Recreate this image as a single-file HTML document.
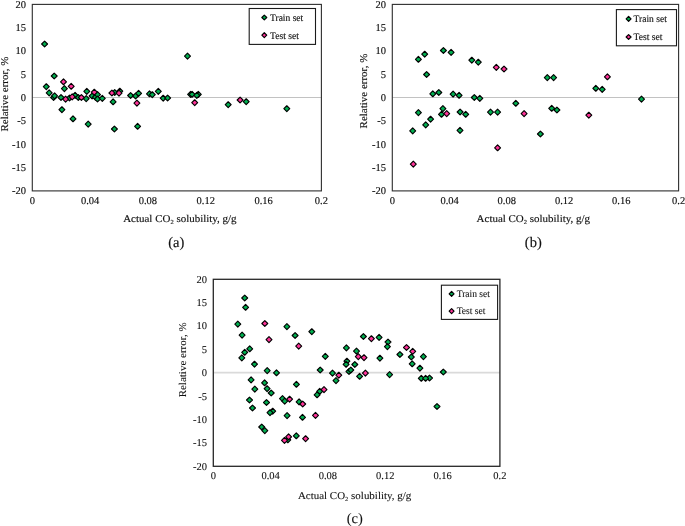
<!DOCTYPE html>
<html><head><meta charset="utf-8"><title>Relative error vs actual CO2 solubility</title>
<style>
html,body{margin:0;padding:0;background:#fff;}
svg{display:block;font-family:"Liberation Serif","Times New Roman",serif;fill:#111;}
path{stroke:#000;stroke-width:1.15px;stroke-linejoin:round;}
path.g{fill:#00b050;}path.p{fill:#ff3399;}path.s{stroke-width:1.2px;}
text{text-rendering:geometricPrecision;stroke:#111;}
</style></head>
<body>
<svg width="685" height="526" viewBox="0 0 685 526">
<rect width="685" height="526" fill="#fff"/>
<g stroke-width="0.15"><line x1="32.3" y1="97.50" x2="321.4" y2="97.50" stroke="#c2c2c2" stroke-width="1.0"/>
<rect x="32.3" y="4.4" width="289.1" height="186.5" fill="none" stroke="#303030" stroke-width="1.12"/>
<text x="25.9" y="7.8" text-anchor="end" font-size="10.5">20</text>
<text x="25.9" y="31.1" text-anchor="end" font-size="10.5">15</text>
<text x="25.9" y="54.4" text-anchor="end" font-size="10.5">10</text>
<text x="25.9" y="77.7" text-anchor="end" font-size="10.5">5</text>
<text x="25.9" y="101.1" text-anchor="end" font-size="10.5">0</text>
<text x="25.9" y="124.4" text-anchor="end" font-size="10.5">-5</text>
<text x="25.9" y="147.7" text-anchor="end" font-size="10.5">-10</text>
<text x="25.9" y="171.0" text-anchor="end" font-size="10.5">-15</text>
<text x="25.9" y="194.3" text-anchor="end" font-size="10.5">-20</text>
<text x="32.3" y="204.0" text-anchor="middle" font-size="10.5">0</text>
<text x="90.1" y="204.0" text-anchor="middle" font-size="10.5">0.04</text>
<text x="147.9" y="204.0" text-anchor="middle" font-size="10.5">0.08</text>
<text x="205.8" y="204.0" text-anchor="middle" font-size="10.5">0.12</text>
<text x="263.6" y="204.0" text-anchor="middle" font-size="10.5">0.16</text>
<text x="321.4" y="204.0" text-anchor="middle" font-size="10.5">0.2</text>
<path class="g" d="M44.6 41.05l2.95 2.95l-2.95 2.95l-2.95 -2.95z"/>
<path class="g" d="M54.2 73.05l2.95 2.95l-2.95 2.95l-2.95 -2.95z"/>
<path class="g" d="M46.3 83.75l2.95 2.95l-2.95 2.95l-2.95 -2.95z"/>
<path class="g" d="M64.4 85.65l2.95 2.95l-2.95 2.95l-2.95 -2.95z"/>
<path class="g" d="M49.2 89.95l2.95 2.95l-2.95 2.95l-2.95 -2.95z"/>
<path class="g" d="M86.8 88.45l2.95 2.95l-2.95 2.95l-2.95 -2.95z"/>
<path class="g" d="M53.6 94.55l2.95 2.95l-2.95 2.95l-2.95 -2.95z"/>
<path class="g" d="M54.6 92.95l2.95 2.95l-2.95 2.95l-2.95 -2.95z"/>
<path class="g" d="M61.0 94.55l2.95 2.95l-2.95 2.95l-2.95 -2.95z"/>
<path class="g" d="M69.5 95.05l2.95 2.95l-2.95 2.95l-2.95 -2.95z"/>
<path class="g" d="M75.1 92.35l2.95 2.95l-2.95 2.95l-2.95 -2.95z"/>
<path class="g" d="M78.3 94.55l2.95 2.95l-2.95 2.95l-2.95 -2.95z"/>
<path class="g" d="M86.2 95.65l2.95 2.95l-2.95 2.95l-2.95 -2.95z"/>
<path class="g" d="M92.1 93.05l2.95 2.95l-2.95 2.95l-2.95 -2.95z"/>
<path class="g" d="M95.4 94.25l2.95 2.95l-2.95 2.95l-2.95 -2.95z"/>
<path class="g" d="M97.5 91.65l2.95 2.95l-2.95 2.95l-2.95 -2.95z"/>
<path class="g" d="M97.5 96.05l2.95 2.95l-2.95 2.95l-2.95 -2.95z"/>
<path class="g" d="M102.3 95.45l2.95 2.95l-2.95 2.95l-2.95 -2.95z"/>
<path class="g" d="M61.9 106.75l2.95 2.95l-2.95 2.95l-2.95 -2.95z"/>
<path class="g" d="M73.0 115.85l2.95 2.95l-2.95 2.95l-2.95 -2.95z"/>
<path class="g" d="M88.2 121.15l2.95 2.95l-2.95 2.95l-2.95 -2.95z"/>
<path class="g" d="M119.8 88.25l2.95 2.95l-2.95 2.95l-2.95 -2.95z"/>
<path class="g" d="M114.7 89.55l2.95 2.95l-2.95 2.95l-2.95 -2.95z"/>
<path class="g" d="M113.1 98.85l2.95 2.95l-2.95 2.95l-2.95 -2.95z"/>
<path class="g" d="M130.6 92.55l2.95 2.95l-2.95 2.95l-2.95 -2.95z"/>
<path class="g" d="M135.6 93.05l2.95 2.95l-2.95 2.95l-2.95 -2.95z"/>
<path class="g" d="M138.6 90.35l2.95 2.95l-2.95 2.95l-2.95 -2.95z"/>
<path class="g" d="M149.5 90.85l2.95 2.95l-2.95 2.95l-2.95 -2.95z"/>
<path class="g" d="M152.3 91.75l2.95 2.95l-2.95 2.95l-2.95 -2.95z"/>
<path class="g" d="M158.3 88.45l2.95 2.95l-2.95 2.95l-2.95 -2.95z"/>
<path class="g" d="M163.2 95.25l2.95 2.95l-2.95 2.95l-2.95 -2.95z"/>
<path class="g" d="M167.6 95.05l2.95 2.95l-2.95 2.95l-2.95 -2.95z"/>
<path class="g" d="M114.4 126.05l2.95 2.95l-2.95 2.95l-2.95 -2.95z"/>
<path class="g" d="M137.6 123.35l2.95 2.95l-2.95 2.95l-2.95 -2.95z"/>
<path class="g" d="M187.5 53.15l2.95 2.95l-2.95 2.95l-2.95 -2.95z"/>
<path class="g" d="M190.6 91.45l2.95 2.95l-2.95 2.95l-2.95 -2.95z"/>
<path class="g" d="M192.1 91.35l2.95 2.95l-2.95 2.95l-2.95 -2.95z"/>
<path class="g" d="M198.3 91.45l2.95 2.95l-2.95 2.95l-2.95 -2.95z"/>
<path class="g" d="M196.8 92.45l2.95 2.95l-2.95 2.95l-2.95 -2.95z"/>
<path class="g" d="M228.2 101.75l2.95 2.95l-2.95 2.95l-2.95 -2.95z"/>
<path class="g" d="M246.2 98.75l2.95 2.95l-2.95 2.95l-2.95 -2.95z"/>
<path class="g" d="M286.8 105.75l2.95 2.95l-2.95 2.95l-2.95 -2.95z"/>
<path class="p" d="M63.5 78.85l2.95 2.95l-2.95 2.95l-2.95 -2.95z"/>
<path class="p" d="M71.2 83.35l2.95 2.95l-2.95 2.95l-2.95 -2.95z"/>
<path class="p" d="M94.3 89.25l2.95 2.95l-2.95 2.95l-2.95 -2.95z"/>
<path class="p" d="M65.6 96.15l2.95 2.95l-2.95 2.95l-2.95 -2.95z"/>
<path class="p" d="M72.2 93.95l2.95 2.95l-2.95 2.95l-2.95 -2.95z"/>
<path class="p" d="M81.4 94.55l2.95 2.95l-2.95 2.95l-2.95 -2.95z"/>
<path class="p" d="M111.9 90.05l2.95 2.95l-2.95 2.95l-2.95 -2.95z"/>
<path class="p" d="M119.0 90.15l2.95 2.95l-2.95 2.95l-2.95 -2.95z"/>
<path class="p" d="M136.9 100.15l2.95 2.95l-2.95 2.95l-2.95 -2.95z"/>
<path class="p" d="M194.7 99.75l2.95 2.95l-2.95 2.95l-2.95 -2.95z"/>
<path class="p" d="M240.1 97.05l2.95 2.95l-2.95 2.95l-2.95 -2.95z"/>
<rect x="249.2" y="8.5" width="66.3" height="35.9" fill="#fff" stroke="#1a1a1a" stroke-width="1.1"/>
<path class="g s" d="M264.3 15.05l2.45 2.45l-2.45 2.45l-2.45 -2.45z"/>
<path class="p s" d="M264.3 32.75l2.45 2.45l-2.45 2.45l-2.45 -2.45z"/>
<text x="270" y="20.8" font-size="10" textLength="33.2" lengthAdjust="spacingAndGlyphs">Train set</text>
<text x="270" y="38.5" font-size="10" textLength="28.8" lengthAdjust="spacingAndGlyphs">Test set</text>
<text transform="translate(8.4 94.1) rotate(-90)" text-anchor="middle" font-size="10.4" textLength="74.9" lengthAdjust="spacingAndGlyphs">Relative error, %</text>
<text x="123.2" y="221.7" font-size="10.4" textLength="113.4" lengthAdjust="spacingAndGlyphs">Actual CO<tspan font-size="6.2" dy="2">2</tspan><tspan dy="-2"> solubility, g/g</tspan></text>
<text x="176.2" y="247.1" text-anchor="middle" font-size="14.5">(a)</text></g>
<g stroke-width="0.15"><line x1="392.3" y1="97.50" x2="678.6" y2="97.50" stroke="#c2c2c2" stroke-width="1.0"/>
<rect x="392.3" y="4.4" width="286.3" height="186.5" fill="none" stroke="#303030" stroke-width="1.12"/>
<text x="385.9" y="7.8" text-anchor="end" font-size="10.5">20</text>
<text x="385.9" y="31.1" text-anchor="end" font-size="10.5">15</text>
<text x="385.9" y="54.4" text-anchor="end" font-size="10.5">10</text>
<text x="385.9" y="77.7" text-anchor="end" font-size="10.5">5</text>
<text x="385.9" y="101.1" text-anchor="end" font-size="10.5">0</text>
<text x="385.9" y="124.4" text-anchor="end" font-size="10.5">-5</text>
<text x="385.9" y="147.7" text-anchor="end" font-size="10.5">-10</text>
<text x="385.9" y="171.0" text-anchor="end" font-size="10.5">-15</text>
<text x="385.9" y="194.3" text-anchor="end" font-size="10.5">-20</text>
<text x="392.3" y="204.0" text-anchor="middle" font-size="10.5">0</text>
<text x="449.6" y="204.0" text-anchor="middle" font-size="10.5">0.04</text>
<text x="506.8" y="204.0" text-anchor="middle" font-size="10.5">0.08</text>
<text x="564.1" y="204.0" text-anchor="middle" font-size="10.5">0.12</text>
<text x="621.3" y="204.0" text-anchor="middle" font-size="10.5">0.16</text>
<text x="678.6" y="204.0" text-anchor="middle" font-size="10.5">0.2</text>
<path class="g" d="M418.4 56.35l2.95 2.95l-2.95 2.95l-2.95 -2.95z"/>
<path class="g" d="M424.7 51.25l2.95 2.95l-2.95 2.95l-2.95 -2.95z"/>
<path class="g" d="M443.4 47.55l2.95 2.95l-2.95 2.95l-2.95 -2.95z"/>
<path class="g" d="M451.1 49.45l2.95 2.95l-2.95 2.95l-2.95 -2.95z"/>
<path class="g" d="M471.8 57.25l2.95 2.95l-2.95 2.95l-2.95 -2.95z"/>
<path class="g" d="M478.3 59.25l2.95 2.95l-2.95 2.95l-2.95 -2.95z"/>
<path class="g" d="M426.6 71.55l2.95 2.95l-2.95 2.95l-2.95 -2.95z"/>
<path class="g" d="M432.8 90.85l2.95 2.95l-2.95 2.95l-2.95 -2.95z"/>
<path class="g" d="M438.8 89.55l2.95 2.95l-2.95 2.95l-2.95 -2.95z"/>
<path class="g" d="M453.1 91.15l2.95 2.95l-2.95 2.95l-2.95 -2.95z"/>
<path class="g" d="M459.1 92.35l2.95 2.95l-2.95 2.95l-2.95 -2.95z"/>
<path class="g" d="M474.3 94.55l2.95 2.95l-2.95 2.95l-2.95 -2.95z"/>
<path class="g" d="M479.8 95.45l2.95 2.95l-2.95 2.95l-2.95 -2.95z"/>
<path class="g" d="M418.4 109.65l2.95 2.95l-2.95 2.95l-2.95 -2.95z"/>
<path class="g" d="M442.9 105.65l2.95 2.95l-2.95 2.95l-2.95 -2.95z"/>
<path class="g" d="M441.5 111.35l2.95 2.95l-2.95 2.95l-2.95 -2.95z"/>
<path class="g" d="M460.1 109.05l2.95 2.95l-2.95 2.95l-2.95 -2.95z"/>
<path class="g" d="M465.7 111.35l2.95 2.95l-2.95 2.95l-2.95 -2.95z"/>
<path class="g" d="M430.6 116.25l2.95 2.95l-2.95 2.95l-2.95 -2.95z"/>
<path class="g" d="M425.7 121.95l2.95 2.95l-2.95 2.95l-2.95 -2.95z"/>
<path class="g" d="M412.7 127.95l2.95 2.95l-2.95 2.95l-2.95 -2.95z"/>
<path class="g" d="M460.0 127.45l2.95 2.95l-2.95 2.95l-2.95 -2.95z"/>
<path class="g" d="M490.5 109.15l2.95 2.95l-2.95 2.95l-2.95 -2.95z"/>
<path class="g" d="M497.6 109.15l2.95 2.95l-2.95 2.95l-2.95 -2.95z"/>
<path class="g" d="M547.3 74.65l2.95 2.95l-2.95 2.95l-2.95 -2.95z"/>
<path class="g" d="M553.6 74.65l2.95 2.95l-2.95 2.95l-2.95 -2.95z"/>
<path class="g" d="M515.8 100.35l2.95 2.95l-2.95 2.95l-2.95 -2.95z"/>
<path class="g" d="M551.7 105.35l2.95 2.95l-2.95 2.95l-2.95 -2.95z"/>
<path class="g" d="M556.9 107.05l2.95 2.95l-2.95 2.95l-2.95 -2.95z"/>
<path class="g" d="M540.4 131.05l2.95 2.95l-2.95 2.95l-2.95 -2.95z"/>
<path class="g" d="M595.8 85.35l2.95 2.95l-2.95 2.95l-2.95 -2.95z"/>
<path class="g" d="M602.2 86.45l2.95 2.95l-2.95 2.95l-2.95 -2.95z"/>
<path class="g" d="M641.5 96.15l2.95 2.95l-2.95 2.95l-2.95 -2.95z"/>
<path class="p" d="M446.7 110.65l2.95 2.95l-2.95 2.95l-2.95 -2.95z"/>
<path class="p" d="M413.3 161.15l2.95 2.95l-2.95 2.95l-2.95 -2.95z"/>
<path class="p" d="M496.3 64.45l2.95 2.95l-2.95 2.95l-2.95 -2.95z"/>
<path class="p" d="M504.0 66.05l2.95 2.95l-2.95 2.95l-2.95 -2.95z"/>
<path class="p" d="M524.1 110.65l2.95 2.95l-2.95 2.95l-2.95 -2.95z"/>
<path class="p" d="M588.8 112.25l2.95 2.95l-2.95 2.95l-2.95 -2.95z"/>
<path class="p" d="M497.6 144.85l2.95 2.95l-2.95 2.95l-2.95 -2.95z"/>
<path class="p" d="M607.4 73.85l2.95 2.95l-2.95 2.95l-2.95 -2.95z"/>
<rect x="616.4" y="9.6" width="60.1" height="36.2" fill="#fff" stroke="#1a1a1a" stroke-width="1.1"/>
<path class="g s" d="M628.6 16.45l2.45 2.45l-2.45 2.45l-2.45 -2.45z"/>
<path class="p s" d="M628.6 34.55l2.45 2.45l-2.45 2.45l-2.45 -2.45z"/>
<text x="633.6" y="21.8" font-size="10" textLength="33.2" lengthAdjust="spacingAndGlyphs">Train set</text>
<text x="633.6" y="39.9" font-size="10" textLength="28.8" lengthAdjust="spacingAndGlyphs">Test set</text>
<text transform="translate(366.7 91.0) rotate(-90)" text-anchor="middle" font-size="10.4" textLength="74.9" lengthAdjust="spacingAndGlyphs">Relative error, %</text>
<text x="476.6" y="222.1" font-size="10.4" textLength="113.4" lengthAdjust="spacingAndGlyphs">Actual CO<tspan font-size="6.2" dy="2">2</tspan><tspan dy="-2"> solubility, g/g</tspan></text>
<text x="533.3" y="247.2" text-anchor="middle" font-size="14.5">(b)</text></g>
<g stroke-width="0.09"><line x1="213.3" y1="372.65" x2="499.9" y2="372.65" stroke="#dadada" stroke-width="1.7"/>
<rect x="213.3" y="279.3" width="286.6" height="187.0" fill="none" stroke="#262626" stroke-width="1.3"/>
<text x="206.9" y="282.7" text-anchor="end" font-size="10.5">20</text>
<text x="206.9" y="306.1" text-anchor="end" font-size="10.5">15</text>
<text x="206.9" y="329.4" text-anchor="end" font-size="10.5">10</text>
<text x="206.9" y="352.8" text-anchor="end" font-size="10.5">5</text>
<text x="206.9" y="376.2" text-anchor="end" font-size="10.5">0</text>
<text x="206.9" y="399.6" text-anchor="end" font-size="10.5">-5</text>
<text x="206.9" y="422.9" text-anchor="end" font-size="10.5">-10</text>
<text x="206.9" y="446.3" text-anchor="end" font-size="10.5">-15</text>
<text x="206.9" y="469.7" text-anchor="end" font-size="10.5">-20</text>
<text x="213.3" y="479.4" text-anchor="middle" font-size="10.5">0</text>
<text x="270.6" y="479.4" text-anchor="middle" font-size="10.5">0.04</text>
<text x="327.9" y="479.4" text-anchor="middle" font-size="10.5">0.08</text>
<text x="385.3" y="479.4" text-anchor="middle" font-size="10.5">0.12</text>
<text x="442.6" y="479.4" text-anchor="middle" font-size="10.5">0.16</text>
<text x="499.9" y="479.4" text-anchor="middle" font-size="10.5">0.2</text>
<path class="g" d="M244.7 295.05l2.95 2.95l-2.95 2.95l-2.95 -2.95z"/>
<path class="g" d="M245.6 304.35l2.95 2.95l-2.95 2.95l-2.95 -2.95z"/>
<path class="g" d="M237.8 321.15l2.95 2.95l-2.95 2.95l-2.95 -2.95z"/>
<path class="g" d="M286.9 323.65l2.95 2.95l-2.95 2.95l-2.95 -2.95z"/>
<path class="g" d="M242.1 332.15l2.95 2.95l-2.95 2.95l-2.95 -2.95z"/>
<path class="g" d="M295.1 332.55l2.95 2.95l-2.95 2.95l-2.95 -2.95z"/>
<path class="g" d="M249.7 345.85l2.95 2.95l-2.95 2.95l-2.95 -2.95z"/>
<path class="g" d="M244.7 349.35l2.95 2.95l-2.95 2.95l-2.95 -2.95z"/>
<path class="g" d="M241.8 354.95l2.95 2.95l-2.95 2.95l-2.95 -2.95z"/>
<path class="g" d="M311.8 328.75l2.95 2.95l-2.95 2.95l-2.95 -2.95z"/>
<path class="g" d="M254.5 361.25l2.95 2.95l-2.95 2.95l-2.95 -2.95z"/>
<path class="g" d="M267.2 367.65l2.95 2.95l-2.95 2.95l-2.95 -2.95z"/>
<path class="g" d="M276.5 369.85l2.95 2.95l-2.95 2.95l-2.95 -2.95z"/>
<path class="g" d="M251.1 376.95l2.95 2.95l-2.95 2.95l-2.95 -2.95z"/>
<path class="g" d="M264.6 379.85l2.95 2.95l-2.95 2.95l-2.95 -2.95z"/>
<path class="g" d="M296.4 381.35l2.95 2.95l-2.95 2.95l-2.95 -2.95z"/>
<path class="g" d="M254.8 386.15l2.95 2.95l-2.95 2.95l-2.95 -2.95z"/>
<path class="g" d="M267.1 385.75l2.95 2.95l-2.95 2.95l-2.95 -2.95z"/>
<path class="g" d="M271.2 390.05l2.95 2.95l-2.95 2.95l-2.95 -2.95z"/>
<path class="g" d="M249.5 397.05l2.95 2.95l-2.95 2.95l-2.95 -2.95z"/>
<path class="g" d="M266.5 399.55l2.95 2.95l-2.95 2.95l-2.95 -2.95z"/>
<path class="g" d="M282.5 395.65l2.95 2.95l-2.95 2.95l-2.95 -2.95z"/>
<path class="g" d="M284.7 398.15l2.95 2.95l-2.95 2.95l-2.95 -2.95z"/>
<path class="g" d="M299.1 398.95l2.95 2.95l-2.95 2.95l-2.95 -2.95z"/>
<path class="g" d="M252.5 405.05l2.95 2.95l-2.95 2.95l-2.95 -2.95z"/>
<path class="g" d="M272.7 408.25l2.95 2.95l-2.95 2.95l-2.95 -2.95z"/>
<path class="g" d="M270.0 409.75l2.95 2.95l-2.95 2.95l-2.95 -2.95z"/>
<path class="g" d="M287.1 412.65l2.95 2.95l-2.95 2.95l-2.95 -2.95z"/>
<path class="g" d="M302.5 414.35l2.95 2.95l-2.95 2.95l-2.95 -2.95z"/>
<path class="g" d="M261.7 424.05l2.95 2.95l-2.95 2.95l-2.95 -2.95z"/>
<path class="g" d="M264.8 427.65l2.95 2.95l-2.95 2.95l-2.95 -2.95z"/>
<path class="g" d="M287.8 436.85l2.95 2.95l-2.95 2.95l-2.95 -2.95z"/>
<path class="g" d="M296.3 432.85l2.95 2.95l-2.95 2.95l-2.95 -2.95z"/>
<path class="g" d="M325.3 353.45l2.95 2.95l-2.95 2.95l-2.95 -2.95z"/>
<path class="g" d="M320.2 367.05l2.95 2.95l-2.95 2.95l-2.95 -2.95z"/>
<path class="g" d="M332.5 370.15l2.95 2.95l-2.95 2.95l-2.95 -2.95z"/>
<path class="g" d="M336.0 377.65l2.95 2.95l-2.95 2.95l-2.95 -2.95z"/>
<path class="g" d="M346.4 344.95l2.95 2.95l-2.95 2.95l-2.95 -2.95z"/>
<path class="g" d="M346.9 358.25l2.95 2.95l-2.95 2.95l-2.95 -2.95z"/>
<path class="g" d="M346.1 361.35l2.95 2.95l-2.95 2.95l-2.95 -2.95z"/>
<path class="g" d="M354.8 361.55l2.95 2.95l-2.95 2.95l-2.95 -2.95z"/>
<path class="g" d="M349.0 368.55l2.95 2.95l-2.95 2.95l-2.95 -2.95z"/>
<path class="g" d="M350.8 367.05l2.95 2.95l-2.95 2.95l-2.95 -2.95z"/>
<path class="g" d="M356.5 348.15l2.95 2.95l-2.95 2.95l-2.95 -2.95z"/>
<path class="g" d="M359.6 373.35l2.95 2.95l-2.95 2.95l-2.95 -2.95z"/>
<path class="g" d="M363.4 333.55l2.95 2.95l-2.95 2.95l-2.95 -2.95z"/>
<path class="g" d="M379.1 334.45l2.95 2.95l-2.95 2.95l-2.95 -2.95z"/>
<path class="g" d="M388.0 339.05l2.95 2.95l-2.95 2.95l-2.95 -2.95z"/>
<path class="g" d="M387.4 343.75l2.95 2.95l-2.95 2.95l-2.95 -2.95z"/>
<path class="g" d="M379.9 355.25l2.95 2.95l-2.95 2.95l-2.95 -2.95z"/>
<path class="g" d="M389.6 371.65l2.95 2.95l-2.95 2.95l-2.95 -2.95z"/>
<path class="g" d="M399.9 351.55l2.95 2.95l-2.95 2.95l-2.95 -2.95z"/>
<path class="g" d="M319.7 388.35l2.95 2.95l-2.95 2.95l-2.95 -2.95z"/>
<path class="g" d="M317.1 391.85l2.95 2.95l-2.95 2.95l-2.95 -2.95z"/>
<path class="g" d="M411.3 354.05l2.95 2.95l-2.95 2.95l-2.95 -2.95z"/>
<path class="g" d="M423.4 353.65l2.95 2.95l-2.95 2.95l-2.95 -2.95z"/>
<path class="g" d="M412.2 360.85l2.95 2.95l-2.95 2.95l-2.95 -2.95z"/>
<path class="g" d="M419.9 365.25l2.95 2.95l-2.95 2.95l-2.95 -2.95z"/>
<path class="g" d="M443.3 369.05l2.95 2.95l-2.95 2.95l-2.95 -2.95z"/>
<path class="g" d="M429.5 375.05l2.95 2.95l-2.95 2.95l-2.95 -2.95z"/>
<path class="g" d="M421.3 375.35l2.95 2.95l-2.95 2.95l-2.95 -2.95z"/>
<path class="g" d="M425.6 375.35l2.95 2.95l-2.95 2.95l-2.95 -2.95z"/>
<path class="g" d="M437.0 403.55l2.95 2.95l-2.95 2.95l-2.95 -2.95z"/>
<path class="p" d="M264.8 320.55l2.95 2.95l-2.95 2.95l-2.95 -2.95z"/>
<path class="p" d="M269.0 336.65l2.95 2.95l-2.95 2.95l-2.95 -2.95z"/>
<path class="p" d="M298.7 343.15l2.95 2.95l-2.95 2.95l-2.95 -2.95z"/>
<path class="p" d="M289.6 396.25l2.95 2.95l-2.95 2.95l-2.95 -2.95z"/>
<path class="p" d="M302.7 401.05l2.95 2.95l-2.95 2.95l-2.95 -2.95z"/>
<path class="p" d="M315.5 412.45l2.95 2.95l-2.95 2.95l-2.95 -2.95z"/>
<path class="p" d="M288.6 433.85l2.95 2.95l-2.95 2.95l-2.95 -2.95z"/>
<path class="p" d="M284.5 437.45l2.95 2.95l-2.95 2.95l-2.95 -2.95z"/>
<path class="p" d="M305.6 435.75l2.95 2.95l-2.95 2.95l-2.95 -2.95z"/>
<path class="p" d="M338.8 372.25l2.95 2.95l-2.95 2.95l-2.95 -2.95z"/>
<path class="p" d="M358.3 353.65l2.95 2.95l-2.95 2.95l-2.95 -2.95z"/>
<path class="p" d="M364.0 354.75l2.95 2.95l-2.95 2.95l-2.95 -2.95z"/>
<path class="p" d="M365.4 370.15l2.95 2.95l-2.95 2.95l-2.95 -2.95z"/>
<path class="p" d="M371.4 335.75l2.95 2.95l-2.95 2.95l-2.95 -2.95z"/>
<path class="p" d="M324.0 386.65l2.95 2.95l-2.95 2.95l-2.95 -2.95z"/>
<path class="p" d="M406.5 344.55l2.95 2.95l-2.95 2.95l-2.95 -2.95z"/>
<path class="p" d="M412.7 348.45l2.95 2.95l-2.95 2.95l-2.95 -2.95z"/>
<rect x="441.4" y="285.2" width="56.2" height="34.2" fill="#fff" stroke="#1a1a1a" stroke-width="1.1"/>
<path class="g s" d="M451.6 291.35l2.45 2.45l-2.45 2.45l-2.45 -2.45z"/>
<path class="p s" d="M451.6 308.65l2.45 2.45l-2.45 2.45l-2.45 -2.45z"/>
<text x="456.7" y="297.1" font-size="10" textLength="33.2" lengthAdjust="spacingAndGlyphs">Train set</text>
<text x="456.7" y="314.3" font-size="10" textLength="28.8" lengthAdjust="spacingAndGlyphs">Test set</text>
<text transform="translate(186.1 359.9) rotate(-90)" text-anchor="middle" font-size="10.4" textLength="74.9" lengthAdjust="spacingAndGlyphs">Relative error, %</text>
<text x="297.9" y="498.8" font-size="10.4" textLength="113.4" lengthAdjust="spacingAndGlyphs">Actual CO<tspan font-size="6.2" dy="2">2</tspan><tspan dy="-2"> solubility, g/g</tspan></text>
<text x="354.8" y="522.7" text-anchor="middle" font-size="14.5">(c)</text></g>
</svg>
</body></html>
